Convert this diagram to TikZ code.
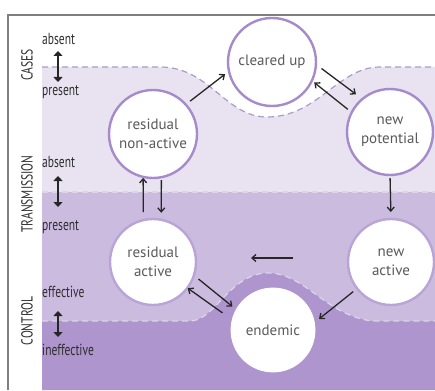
\documentclass[tikz,border=0pt]{standalone}
\usepackage{fontspec}
\setmainfont{PT Sans}
\newfontfamily\narrowfont[FakeStretch=0.72]{PT Sans}
\usetikzlibrary{arrows.meta,calc}

\definecolor{bandA}{HTML}{E9E3F1}
\definecolor{bandB}{HTML}{CBBBDF}
\definecolor{bandC}{HTML}{AF95CD}
\definecolor{ringdark}{HTML}{A68BCB}
\definecolor{ringlight}{HTML}{B9A4D6}
\definecolor{dashdark}{HTML}{A99CC6}
\definecolor{dashlight}{HTML}{DDD5E8}
\definecolor{framegray}{HTML}{7F7F7F}
\definecolor{inktext}{HTML}{5A5A5A}
\definecolor{labeltext}{HTML}{2E2E2E}

\tikzset{
  state/.style={circle, fill=white, draw=ringdark, line width=2.4pt,
    inner sep=0pt, outer sep=0pt, align=center, text=inktext,
    font=\fontsize{15}{19}\selectfont},
  arr/.style={draw=black!85, line width=1.3pt,
    -{Straight Barb[length=4pt,width=7pt]}},
  dbl/.style={draw=black!85, line width=2.6pt,
    {Triangle[width=9pt,length=5pt]}-{Triangle[width=9pt,length=5pt]}},
  level/.style={anchor=base west, text=labeltext,
    font=\narrowfont\fontsize{16}{18}\selectfont, inner sep=0pt},
  axis/.style={rotate=90, text=labeltext,
    font=\narrowfont\fontsize{16}{18}\selectfont, inner sep=0pt},
  boundary/.style={line width=1.2pt, dash pattern=on 6pt off 4pt},
}

\begin{document}
\begin{tikzpicture}[x=1pt,y=-1pt]
\useasboundingbox (0,0) rectangle (435,390);

% shaded bands
\fill[bandA] (42,67) -- (160,67) .. controls (210,67) and (225,117) .. (267,117)
  .. controls (318,117) and (338,67) .. (380,67) -- (435,67) -- (435,390) -- (42,390) -- cycle;
\fill[bandB] (42,192) rectangle (435,390);
\fill[bandC] (42,321) -- (190,321) .. controls (215,321) and (230,273) .. (268,273)
  .. controls (305,273) and (325,315) .. (372,321) -- (435,321) -- (435,390) -- (42,390) -- cycle;

% band boundaries
\draw[boundary, dashdark] (42,67) -- (160,67) .. controls (210,67) and (225,117) .. (267,117)
  .. controls (318,117) and (338,67) .. (380,67) -- (435,67);
\draw[boundary, dashlight] (42,192) -- (435,192);
\draw[boundary, dashlight] (42,321) -- (190,321) .. controls (215,321) and (230,273) .. (268,273)
  .. controls (305,273) and (325,315) .. (372,321) -- (435,321);

% frame
\draw[framegray, line width=1.8pt] (8,390) -- (8,15) -- (435,15);

% axis labels
\node[axis] (cases) at (27,65) {CASES};
\node[axis] (trans) at (27,194) {TRANSMISSION};
\node[axis] (ctrl) at (27,321) {CONTROL};

\node[level] (absA) at (42,45) {absent};
\node[level] (preA) at (42,96) {present};
\node[level] (absB) at (42,167) {absent};
\node[level] (preB) at (42,230) {present};
\node[level] (effC) at (42,297) {effective};
\node[level] (ineC) at (42,355) {ineffective};

\coordinate (dA1) at (58,51);  \coordinate (dA2) at (58,82);
\coordinate (dB1) at (58,176); \coordinate (dB2) at (58,207);
\coordinate (dC1) at (58,311); \coordinate (dC2) at (58,337);
\draw[dbl] (dA1) -- (dA2);
\draw[dbl] (dB1) -- (dB2);
\draw[dbl] (dC1) -- (dC2);

% states
\node[state, minimum size=88pt] (rna) at (153,134) {residual\\non-active};
\node[state, minimum size=88pt] (cu) at (272,62) {cleared up};
\node[state, minimum size=86pt] (np) at (390,132) {new\\potential};
\node[state, minimum size=86pt, draw=ringlight] (ra) at (153,262) {residual\\active};
\node[state, minimum size=86pt, draw=ringlight] (na) at (391,262) {new\\active};
\node[state, minimum size=84pt, draw=white, line width=0.8pt] (en) at (273,330) {endemic};

% transitions
\draw[arr, shorten <=5.5pt, shorten >=5pt] (rna.42) -- (cu.192);
\draw[arr, shorten <=7pt, shorten >=8pt] (cu.-3) -- (np.130);
\draw[arr, shorten <=5pt, shorten >=3pt] (np.153) -- (cu.-25);
\draw[arr, shorten <=3pt, shorten >=7pt] (np.south) -- (na.north);
\coordinate (midR) at (293,258);
\coordinate (midL) at (251,258);
\draw[arr] (midR) -- (midL);
\draw[arr, shorten <=5pt, shorten >=6pt] (na.218) -- (en.10);
\draw[arr, shorten <=6pt, shorten >=5pt] (ra.-18) -- (en.151);
\draw[arr, shorten <=12pt, shorten >=0.5pt] (en.166) -- (ra.-37);
\draw[arr, shorten <=8pt, shorten >=1pt] (ra.103) -- (rna.257);
\draw[arr, shorten <=3pt, shorten >=7pt] (rna.-79.5) -- (ra.79.3);
\end{tikzpicture}
\end{document}
